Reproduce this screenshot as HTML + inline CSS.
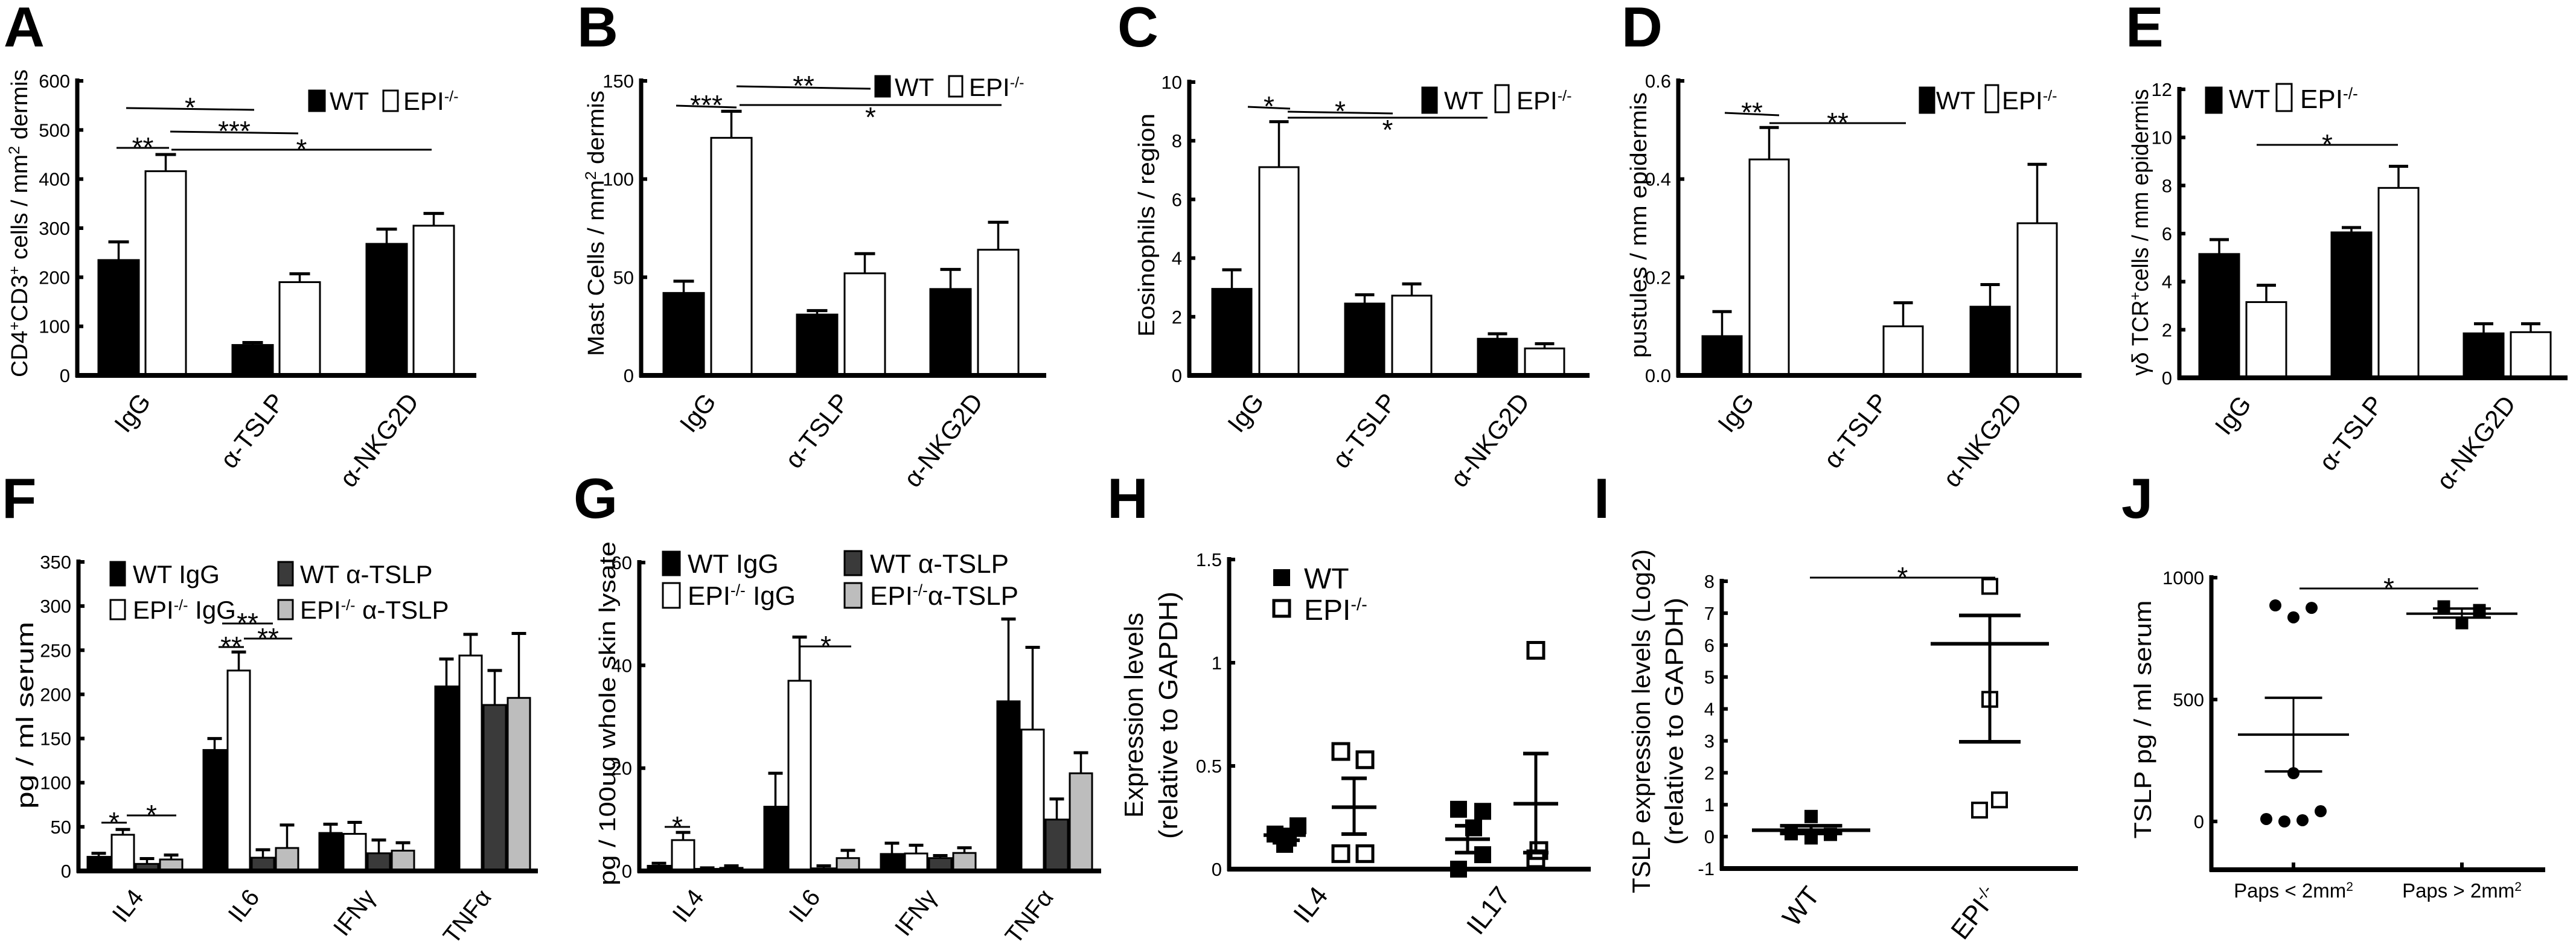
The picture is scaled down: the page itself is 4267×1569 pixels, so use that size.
<!DOCTYPE html>
<html><head><meta charset="utf-8"><title>Figure panels A-J</title>
<style>
html,body{margin:0;padding:0;background:#fff;}
svg{display:block;font-family:"Liberation Sans",Arial,sans-serif;}
</style></head>
<body>
<svg id="fig" xmlns="http://www.w3.org/2000/svg" width="4267" height="1569" viewBox="0 0 4267 1569">
<rect x="0" y="0" width="4267" height="1569" fill="#fff"/>
</svg>
<script>
// ---------- DATA ----------
const catsTop = ['IgG', 'α-TSLP', 'α-NKG2D'];
const catsCyt = ['IL4', 'IL6', 'IFNγ', 'TNFα'];

const A_wt = [235, 62, 268];
const A_wtErr = [37, 5, 30];
const A_epi = [416, 190, 305];
const A_epiErr = [34, 17, 25];
const A_ticks = [0, 100, 200, 300, 400, 500, 600];

const B_wt = [42, 31, 44];
const B_wtErr = [6, 2, 10];
const B_epi = [121, 52, 64];
const B_epiErr = [13.5, 10, 14];
const B_ticks = [0, 50, 100, 150];

const C_wt = [2.95, 2.45, 1.25];
const C_wtErr = [0.65, 0.3, 0.17];
const C_epi = [7.1, 2.72, 0.92];
const C_epiErr = [1.55, 0.4, 0.16];
const C_ticks = [0, 2, 4, 6, 8, 10];

const D_wt = [0.08, 0, 0.14];
const D_wtErr = [0.05, 0, 0.045];
const D_epi = [0.44, 0.1, 0.31];
const D_epiErr = [0.065, 0.048, 0.12];
const D_ticks = [0, 0.2, 0.4, 0.6];
const D_tickLabels = ['0.0', '0.2', '0.4', '0.6'];

const E_wt = [5.15, 6.05, 1.85];
const E_wtErr = [0.6, 0.2, 0.4];
const E_epi = [3.15, 7.9, 1.9];
const E_epiErr = [0.7, 0.9, 0.35];
const E_ticks = [0, 2, 4, 6, 8, 10, 12];

const F_wtIgG = [16, 137, 43, 209];
const F_wtIgGErr = [4, 13, 10, 31];
const F_epiIgG = [41, 227, 42, 244];
const F_epiIgGErr = [6, 21, 13, 24];
const F_wtTslp = [8, 15, 20, 188];
const F_wtTslpErr = [6, 9, 15, 39];
const F_epiTslp = [13, 26, 23, 196];
const F_epiTslpErr = [5, 26, 9, 73];
const F_ticks = [0, 50, 100, 150, 200, 250, 300, 350];

const G_wtIgG = [1, 12.5, 3.3, 33];
const G_wtIgGErr = [0.5, 6.5, 2.1, 16];
const G_epiIgG = [6, 37, 3.4, 27.5];
const G_epiIgGErr = [1.5, 8.5, 1.6, 16];
const G_wtTslp = [0.4, 0.5, 2.5, 10];
const G_wtTslpErr = [0.2, 0.5, 0.5, 4];
const G_epiTslp = [0.6, 2.5, 3.5, 19];
const G_epiTslpErr = [0.4, 1.5, 1, 4];
const G_ticks = [0, 20, 40, 60];

const H_cats = ['IL4', 'IL17'];
const H_wtIL4 = [0.17, 0.12, 0.15, 0.21, 0.16];
const H_epiIL4 = [0.57, 0.53, 0.075, 0.075];
const H_wtIL17 = [0.29, 0.28, 0.07, 0.0, 0.2];
const H_epiIL17 = [1.06, 0.09, 0.05];
const H_means = [0.165, 0.3, 0.145, 0.317];
const H_semLo = [0.14, 0.17, 0.08, 0.08];
const H_semHi = [0.19, 0.44, 0.21, 0.56];
const H_ticks = [0, 0.5, 1, 1.5];
const H_tickLabels = ['0', '0.5', '1', '1.5'];

const I_cats = ['WT', 'EPI'];
const I_wt = [0.63, 0.09, -0.04, 0.07];
const I_epi = [7.84, 4.3, 0.83, 1.15];
const I_means = [0.2, 6.04];
const I_semLo = [0.1, 2.97];
const I_semHi = [0.34, 6.93];
const I_ticks = [-1, 0, 1, 2, 3, 4, 5, 6, 7, 8];

const J_cats = ['Paps < 2mm', 'Paps > 2mm'];
const J_small = [886, 837, 876, 198, 10, 0, 5, 42];
const J_large = [881, 866, 814];
const J_means = [356, 852];
const J_semLo = [205, 836];
const J_semHi = [507, 873];
const J_ticks = [0, 500, 1000];

// ---------- helpers ----------
const NS = 'http://www.w3.org/2000/svg';
const svg = document.getElementById('fig');
function mk(tag, attrs, parent, txt) {
  const e = document.createElementNS(NS, tag);
  for (const k in attrs) e.setAttribute(k, attrs[k]);
  if (txt !== undefined) e.textContent = txt;
  (parent || svg).appendChild(e);
  return e;
}
function group(name) {
  const g = mk('g', {}, svg);
  
  
  return g;
}
function scale(min, max, yTop, y0) { return v => y0 - (v - min) / (max - min) * (y0 - yTop); }

function letter(g, ch, x, y) {
  const t = mk('text', {x: x, y: y, 'font-size': 94, 'font-weight': 'bold'}, g, ch);
  
  
}
function yAxis(g, p, ys) {
  const a = mk('line', {x1: p.ax, y1: ys(p.max) - 4, x2: p.ax, y2: p.axBottom + 3, stroke: '#000', 'stroke-width': 7}, g);
  
  
  const xa = mk('line', {x1: p.ax - 3, y1: p.axBottom, x2: p.axEnd, y2: p.axBottom, stroke: '#000', 'stroke-width': 8}, g);
  
  
  p.ticks.forEach((v, i) => {
    const y = ys(v);
    const tk = mk('line', {x1: p.ax, y1: y, x2: p.ax + 10, y2: y, stroke: '#000', 'stroke-width': 6}, g);
    
    
    const lab = p.tickLabels ? p.tickLabels[i] : String(v);
    const t = mk('text', {x: p.ax - 12, y: y + 11, 'font-size': 31, 'text-anchor': 'end'}, g, lab);
    
    
  });
}
function yTitle(g, lines, x, cy, fs, len) {
  lines.forEach((ln, i) => {
    const xx = x + i * fs * 1.3;
    const t = mk('text', {x: xx, y: cy, 'font-size': fs, 'text-anchor': 'middle', transform: 'rotate(-90 ' + xx + ' ' + cy + ')'}, g);
    
    
    if (len && len[i]) { t.setAttribute('textLength', len[i]); t.setAttribute('lengthAdjust', 'spacingAndGlyphs'); }
    ln.forEach(seg => {
      mk('tspan', seg[1] ? {'baseline-shift': 'super', 'font-size': fs * 0.65} : {}, t, seg[0]);
    });
  });
}
function catLabel(g, txt, x, y, fs, sup) {
  const t = mk('text', {x: x, y: y, 'font-size': fs, 'text-anchor': 'end', transform: 'rotate(-52 ' + x + ' ' + y + ')'}, g, txt);
  
  
  if (sup) mk('tspan', {'baseline-shift': 'super', 'font-size': fs * 0.6}, t, sup);
}
function sig(g, x1, y1, x2, y2, stars, below) {
  const l = mk('line', {x1: x1, y1: y1, x2: x2, y2: y2, stroke: '#000', 'stroke-width': 3}, g);
  
  
  const cx = (x1 + x2) / 2, cy = Math.min(y1, y2);
  const t = mk('text', {x: cx, y: below ? Math.max(y1, y2) + 36 : cy + 15, 'font-size': 46, 'text-anchor': 'middle'}, g, stars);
  
  
}
function legendBox(g, x, y, w, h, fill, label, sup, fs, tx, ty, post) {
  const r = mk('rect', {x: x, y: y, width: w, height: h, fill: fill, stroke: '#000', 'stroke-width': 3}, g);
  
  
  const t = mk('text', {x: tx, y: ty, 'font-size': fs}, g, label);
  
  
  if (sup) mk('tspan', {'baseline-shift': 'super', 'font-size': fs * 0.6}, t, sup);
  if (post) mk('tspan', {}, t, post);
}

function barPanel(p) {
  const g = group(p.name);
  const ys = scale(p.min, p.max, p.yTop, p.y0);
  p.axBottom = p.y0;
  p.series.forEach((s, si) => {
    s.vals.forEach((v, ci) => {
      const x = p.bx + ci * p.gstep + si * p.bstep;
      const cx = x + p.bw / 2;
      if (v > 0) {
        const err = s.err[ci];
        const el = mk('line', {x1: cx, y1: ys(v), x2: cx, y2: ys(v + err), stroke: '#000', 'stroke-width': 3.5}, g);
        
        
        const cap = mk('line', {x1: cx - p.cap, y1: ys(v + err), x2: cx + p.cap, y2: ys(v + err), stroke: '#000', 'stroke-width': 5}, g);
        
        
        const r = mk('rect', {x: x, y: ys(v), width: p.bw, height: p.y0 - ys(v), fill: s.fill, stroke: '#000', 'stroke-width': 3}, g);
        
        
      }
    });
  });
  yAxis(g, p, ys);
  p.cats.forEach((c, ci) => {
    const gc = p.bx + ci * p.gstep + ((p.series.length - 1) * p.bstep + p.bw) / 2;
    catLabel(g, c, gc + 16, p.y0 + 44, p.catFs);
  });
  return g;
}

// ---------- Panel A ----------
let g = barPanel({name: 'panel-a', ax: 128, axEnd: 789, yTop: 134, y0: 622, min: 0, max: 600, ticks: A_ticks,
  bx: 163, bw: 67, bstep: 78, gstep: 222, cap: 17, cats: catsTop, catFs: 42,
  series: [{key: 'wt', vals: A_wt, err: A_wtErr, fill: '#000'}, {key: 'epi', vals: A_epi, err: A_epiErr, fill: '#fff'}]});
letter(g, 'A', 6, 77);
yTitle(g, [[['CD4'], ['+', 1], ['CD3'], ['+', 1], [' cells / mm'], ['2', 1], [' dermis']]], 45, 370, 38, [510]);
legendBox(g, 512, 150, 26, 34, '#000', 'WT', '', 42, 546, 182);
legendBox(g, 635, 150, 24, 34, '#fff', 'EPI', '-/-', 42, 668, 182);
sig(g, 209, 179, 421, 182, '*');
sig(g, 282, 218, 494, 221, '***');
sig(g, 193, 245, 280, 245, '**');
sig(g, 284, 248, 715, 248, '*');

// ---------- Panel B ----------
g = barPanel({name: 'panel-b', ax: 1062, axEnd: 1733, yTop: 134, y0: 622, min: 0, max: 150, ticks: B_ticks,
  bx: 1099, bw: 67, bstep: 79, gstep: 221, cap: 17, cats: catsTop, catFs: 42,
  series: [{key: 'wt', vals: B_wt, err: B_wtErr, fill: '#000'}, {key: 'epi', vals: B_epi, err: B_epiErr, fill: '#fff'}]});
letter(g, 'B', 956, 77);
yTitle(g, [[['Mast Cells / mm'], ['2', 1], [' dermis']]], 1000, 370, 38, [440]);
legendBox(g, 1450, 126, 24, 34, '#000', 'WT', '', 42, 1482, 159);
legendBox(g, 1572, 126, 22, 34, '#fff', 'EPI', '-/-', 42, 1605, 159);
sig(g, 1220, 143, 1442, 147, '**');
sig(g, 1120, 175, 1220, 178, '***');
sig(g, 1225, 174, 1659, 174, '*', true);

// ---------- Panel C ----------
g = barPanel({name: 'panel-c', ax: 1970, axEnd: 2633, yTop: 136, y0: 622, min: 0, max: 10, ticks: C_ticks,
  bx: 2008, bw: 65, bstep: 78, gstep: 220, cap: 16, cats: catsTop, catFs: 42,
  series: [{key: 'wt', vals: C_wt, err: C_wtErr, fill: '#000'}, {key: 'epi', vals: C_epi, err: C_epiErr, fill: '#fff'}]});
letter(g, 'C', 1851, 77);
yTitle(g, [[['Eosinophils / region']]], 1912, 373, 38, [370]);
legendBox(g, 2356, 145, 24, 42, '#000', 'WT', '', 42, 2392, 181);
legendBox(g, 2477, 141, 22, 45, '#fff', 'EPI', '-/-', 42, 2512, 181);
sig(g, 2067, 177, 2137, 180, '*');
sig(g, 2133, 185, 2307, 188, '*');
sig(g, 2133, 195, 2464, 195, '*', true);

// ---------- Panel D ----------
g = barPanel({name: 'panel-d', ax: 2780, axEnd: 3448, yTop: 134, y0: 622, min: 0, max: 0.6, ticks: D_ticks, tickLabels: D_tickLabels,
  bx: 2820, bw: 65, bstep: 78, gstep: 222, cap: 16, cats: catsTop, catFs: 42,
  series: [{key: 'wt', vals: D_wt, err: D_wtErr, fill: '#000'}, {key: 'epi', vals: D_epi, err: D_epiErr, fill: '#fff'}]});
letter(g, 'D', 2686, 77);
yTitle(g, [[['pustules / mm epidermis']]], 2727, 373, 38, [440]);
legendBox(g, 3180, 145, 24, 42, '#000', 'WT', '', 42, 3207, 181);
legendBox(g, 3289, 141, 21, 45, '#fff', 'EPI', '-/-', 42, 3316, 181);
sig(g, 2857, 187, 2947, 191, '**');
sig(g, 2931, 204, 3157, 204, '**');

// ---------- Panel E ----------
g = barPanel({name: 'panel-e', ax: 3610, axEnd: 4253, yTop: 148, y0: 626, min: 0, max: 12, ticks: E_ticks,
  bx: 3643, bw: 66, bstep: 78, gstep: 219, cap: 16, cats: catsTop, catFs: 42,
  series: [{key: 'wt', vals: E_wt, err: E_wtErr, fill: '#000'}, {key: 'epi', vals: E_epi, err: E_epiErr, fill: '#fff'}]});
letter(g, 'E', 3521, 77);
yTitle(g, [[['γδ TCR'], ['+', 1], ['cells / mm epidermis']]], 3558, 385, 38, [475]);
legendBox(g, 3654, 145, 26, 42, '#000', 'WT', '', 44, 3692, 179);
legendBox(g, 3771, 139, 25, 45, '#fff', 'EPI', '-/-', 44, 3810, 179);
sig(g, 3738, 240, 3972, 240, '*');

// ---------- Panel F ----------
g = barPanel({name: 'panel-f', ax: 130, axEnd: 891, yTop: 931, y0: 1443, min: 0, max: 350, ticks: F_ticks,
  bx: 145, bw: 37, bstep: 40, gstep: 192, cap: 12, cats: catsCyt, catFs: 40,
  series: [{key: 'wt-igg', vals: F_wtIgG, err: F_wtIgGErr, fill: '#000'},
           {key: 'epi-igg', vals: F_epiIgG, err: F_epiIgGErr, fill: '#fff'},
           {key: 'wt-tslp', vals: F_wtTslp, err: F_wtTslpErr, fill: '#3a3a3a'},
           {key: 'epi-tslp', vals: F_epiTslp, err: F_epiTslpErr, fill: '#bdbdbd'}]});
letter(g, 'F', 3, 858);
yTitle(g, [[['pg / ml serum']]], 55, 1185, 40, [310]);
legendBox(g, 183, 931, 24, 39, '#000', 'WT IgG', '', 42, 220, 966);
legendBox(g, 183, 994, 24, 32, '#fff', 'EPI', '-/-', 42, 220, 1025, ' IgG');
legendBox(g, 461, 931, 24, 39, '#3a3a3a', 'WT α-TSLP', '', 42, 497, 966);
legendBox(g, 461, 994, 24, 32, '#bdbdbd', 'EPI', '-/-', 42, 497, 1025, ' α-TSLP');
sig(g, 168, 1363, 210, 1363, '*');
sig(g, 210, 1351, 292, 1351, '*');
sig(g, 362, 1072, 404, 1072, '**');
sig(g, 404, 1058, 484, 1058, '**');
sig(g, 368, 1033, 452, 1033, '**');

// ---------- Panel G ----------
g = barPanel({name: 'panel-g', ax: 1059, axEnd: 1824, yTop: 932, y0: 1443, min: 0, max: 60, ticks: G_ticks,
  bx: 1073, bw: 37, bstep: 40, gstep: 193, cap: 12, cats: catsCyt, catFs: 40,
  series: [{key: 'wt-igg', vals: G_wtIgG, err: G_wtIgGErr, fill: '#000'},
           {key: 'epi-igg', vals: G_epiIgG, err: G_epiIgGErr, fill: '#fff'},
           {key: 'wt-tslp', vals: G_wtTslp, err: G_wtTslpErr, fill: '#3a3a3a'},
           {key: 'epi-tslp', vals: G_epiTslp, err: G_epiTslpErr, fill: '#bdbdbd'}]});
letter(g, 'G', 950, 858);
yTitle(g, [[['pg / 100ug whole skin lysate']]], 1019, 1182, 38, [570]);
legendBox(g, 1098, 914, 28, 39, '#000', 'WT IgG', '', 44, 1139, 949);
legendBox(g, 1098, 966, 28, 41, '#fff', 'EPI', '-/-', 44, 1139, 1002, ' IgG');
legendBox(g, 1399, 913, 28, 40, '#3a3a3a', 'WT α-TSLP', '', 44, 1441, 949);
legendBox(g, 1399, 966, 28, 41, '#bdbdbd', 'EPI', '-/-', 44, 1441, 1002, 'α-TSLP');
sig(g, 1101, 1370, 1143, 1370, '*');
sig(g, 1326, 1071, 1410, 1071, '*');

// ---------- scatter helpers ----------
function meanSem(g, cx, ys, m, lo, hi, mw, cw, sw) {
  const v = mk('line', {x1: cx, y1: ys(lo), x2: cx, y2: ys(hi), stroke: '#000', 'stroke-width': sw}, g);
  
  
  const ml = mk('line', {x1: cx - mw / 2, y1: ys(m), x2: cx + mw / 2, y2: ys(m), stroke: '#000', 'stroke-width': sw + 1}, g);
  
  
  [lo, hi].forEach(val => {
    const c = mk('line', {x1: cx - cw / 2, y1: ys(val), x2: cx + cw / 2, y2: ys(val), stroke: '#000', 'stroke-width': sw + 1}, g);
    
    
  });
}
function sq(g, cx, cy, s, filled, sw) {
  const r = mk('rect', {x: cx - s / 2, y: cy - s / 2, width: s, height: s, fill: filled ? '#000' : 'none', stroke: '#000', 'stroke-width': filled ? 0 : sw}, g);
  
  
}

// ---------- Panel H ----------
g = group('panel-h');
(function () {
  const p = {ax: 2036, axEnd: 2635, axBottom: 1440, min: 0, max: 1.5, ticks: H_ticks, tickLabels: H_tickLabels};
  const ys = scale(0, 1.5, 927, 1440);
  const centers = [2128, 2243, 2431, 2544];
  const jit = [[-16, 0, 6, 22, -6], [-22, 18, -22, 18], [-15, 25, 25, -15, 10], [0, 5, 0]];
  meanSem(g, centers[0], ys, H_means[0], H_semLo[0], H_semHi[0], 70, 50, 5);
  [H_wtIL4, H_epiIL4, H_wtIL17, H_epiIL17].forEach((arr, si) => {
    if (si > 0) meanSem(g, centers[si], ys, H_means[si], H_semLo[si], H_semHi[si], 74, 42, 5);
    arr.forEach((v, i) => sq(g, centers[si] + jit[si][i], ys(v), si % 2 === 0 ? 28 : 26, si % 2 === 0, 5));
  });
  yAxis(g, p, ys);
  H_cats.forEach((c, i) => catLabel(g, c, (centers[2 * i] + centers[2 * i + 1]) / 2 + 16, 1484, 44));
})();
letter(g, 'H', 1834, 858);
yTitle(g, [[['Expression levels']], [['(relative to GAPDH)']]], 1893, 1185, 44, [340, 410]);
sq(g, 2123, 957, 28, true, 0);
sq(g, 2123, 1008, 26, false, 5);
let tt = mk('text', {x: 2160, y: 975, 'font-size': 48}, g, 'WT');


tt = mk('text', {x: 2160, y: 1027, 'font-size': 48}, g, 'EPI');


mk('tspan', {'baseline-shift': 'super', 'font-size': 29}, tt, '-/-');

// ---------- Panel I ----------
g = group('panel-i');
(function () {
  const ys = scale(-1, 8, 963, 1439);
  const p = {ax: 2852, axEnd: 3442, axBottom: 1439, min: -1, max: 8, ticks: I_ticks};
  const centers = [3000, 3296];
  const jit = [[0, -33, 0, 32], [0, 0, -17, 16]];
  meanSem(g, centers[0], ys, I_means[0], I_semLo[0], I_semHi[0], 196, 103, 5);
  meanSem(g, centers[1], ys, I_means[1], I_semLo[1], I_semHi[1], 196, 102, 5);
  I_wt.forEach((v, i) => sq(g, centers[0] + jit[0][i], ys(v), 22, true, 0));
  I_epi.forEach((v, i) => sq(g, centers[1] + jit[1][i], ys(v), 24, false, 4));
  yAxis(g, p, ys);
  catLabel(g, I_cats[0], centers[0] + 16, 1484, 44);
  catLabel(g, I_cats[1], centers[1] + 16, 1484, 44, '-/-');
  sig(g, 2998, 957, 3305, 957, '*');
})();
letter(g, 'I', 2640, 858);
yTitle(g, [[['TSLP expression levels (Log2)']], [['(relative to GAPDH)']]], 2733, 1195, 42, [570, 410]);

// ---------- Panel J ----------
g = group('panel-j');
(function () {
  const ys = scale(0, 1000, 957, 1361);
  const p = {ax: 3663, axEnd: 4216, axBottom: 1441, min: -200, max: 1000, ticks: J_ticks};
  const centers = [3799, 4078];
  const jitS = [-30, 0, 30, 0, -45, -15, 15, 45];
  const jitL = [-30, 29, 0];
  meanSem(g, centers[0], ys, J_means[0], J_semLo[0], J_semHi[0], 184, 95, 3);
  J_small.forEach((v, i) => {
    const c = mk('circle', {cx: centers[0] + jitS[i], cy: ys(v), r: 10}, g);
    
    
  });
  J_large.forEach((v, i) => sq(g, centers[1] + jitL[i], ys(v), 21, true, 0));
  meanSem(g, centers[1], ys, J_means[1], J_semLo[1], J_semHi[1], 184, 96, 3);
  const ya = mk('line', {x1: p.ax, y1: 953, x2: p.ax, y2: 1444, stroke: '#000', 'stroke-width': 7}, g);
  
  
  const xa = mk('line', {x1: p.ax - 3, y1: 1441, x2: p.axEnd, y2: 1441, stroke: '#000', 'stroke-width': 8}, g);
  
  
  J_ticks.forEach(v => {
    const tk = mk('line', {x1: p.ax, y1: ys(v), x2: p.ax + 10, y2: ys(v), stroke: '#000', 'stroke-width': 6}, g);
    
    
    const t = mk('text', {x: p.ax - 12, y: ys(v) + 11, 'font-size': 31, 'text-anchor': 'end'}, g, String(v));
    
    
  });
  J_cats.forEach((c, i) => {
    const tk = mk('line', {x1: centers[i], y1: 1429, x2: centers[i], y2: 1441, stroke: '#000', 'stroke-width': 6}, g);
    
    
    const t = mk('text', {x: centers[i], y: 1487, 'font-size': 33, 'text-anchor': 'middle'}, g, c);
    
    
    mk('tspan', {'baseline-shift': 'super', 'font-size': 21}, t, '2');
  });
  sig(g, 3809, 975, 4105, 975, '*');
})();
letter(g, 'J', 3514, 858);
yTitle(g, [[['TSLP pg / ml serum']]], 3563, 1192, 40, [395]);
</script>
</body></html>
